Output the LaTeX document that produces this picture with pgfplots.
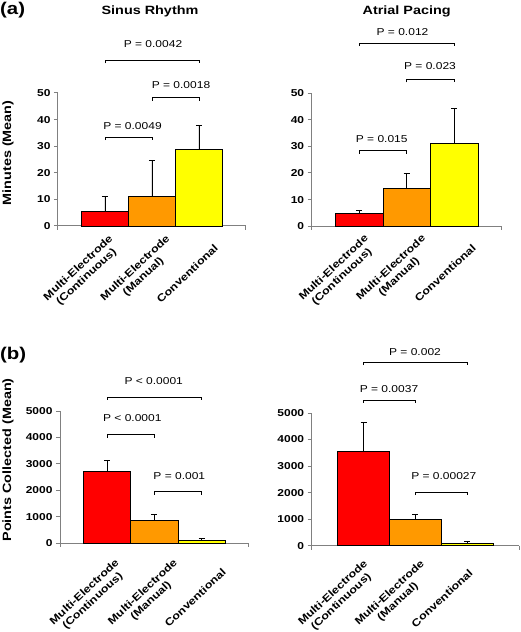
\documentclass[border=0pt]{standalone}
\usepackage{fontspec}
\setmainfont{Liberation Sans}[FakeStretch=1.2]
\usepackage{pgfplots}
\pgfplotsset{compat=1.18}
\definecolor{barred}{RGB}{255,0,0}
\definecolor{barorange}{RGB}{255,153,0}
\definecolor{baryellow}{RGB}{255,255,0}
\definecolor{axgray}{RGB}{128,128,128}
\tikzset{bracket/.style={black, line width=0.8pt}}
\pgfplotsset{
  mybars/.style={
    scale only axis,
    xmin=-1, xmax=3, ymin=0,
    axis lines=left,
    axis line style={-, draw=axgray, line width=1pt},
    xticklabels={{Multi-Electrode\\(Continuous)},{Multi-Electrode\\(Manual)},{\rule{0pt}{21pt}Conventional}},
    x tick label style={rotate=43, anchor=north east, align=center, inner sep=0pt,
      font=\bfseries\fontsize{10.4}{12}\selectfont},
    xtick style={draw=none},
    y tick label style={font=\bfseries\fontsize{10}{12}\selectfont},
    ytick style={draw=axgray, line width=1pt},
    tick align=outside,
    major tick length=4pt,
    ytick pos=left,
    /pgf/number format/assume math mode=true,
    /pgf/number format/1000 sep={},
    scaled y ticks=false,
    clip=false,
    ylabel style={font=\bfseries\fontsize{12}{14}\selectfont, anchor=center},
  },
  mybar/.style={ybar, bar width=1, bar shift=0pt, draw=black, line width=0.6pt, fill=#1,
    error bars/.cd, y dir=plus, y explicit,
    error bar style={black, line width=0.6pt},
    error mark options={rotate=90, black, mark size=3pt, line width=0.6pt}},
}
\newcommand{\bracket}[3]{\draw[bracket] ([yshift=-3pt]axis cs:#1,#3) -- (axis cs:#1,#3) -- (axis cs:#2,#3) -- ([yshift=-3pt]axis cs:#2,#3);}
\newcommand{\axisendticks}{%
  \draw[axgray, line width=1pt] (axis cs:3,0) -- ([yshift=-4pt]axis cs:3,0);
  \draw[axgray, line width=1pt] (axis cs:-1,0) -- ([yshift=-4pt]axis cs:-1,0);}
\begin{document}
\begin{tikzpicture}
\path[use as bounding box] (0,0) rectangle (520pt,632pt);
% (a) Sinus Rhythm
\begin{axis}[mybars, at={(58pt,406pt)}, anchor=south west, width=188pt, height=133pt,
  ymax=50, ytick={0,10,20,30,40,50},
  xtick={-0.008,1.204,2.041}, x tick label style={yshift=-5.2pt},
  ylabel={Minutes (Mean)}, ylabel style={at={(axis description cs:-0.266,0.55)}}]
\addplot[mybar=barred] coordinates {(0,5.5) +- (0,5.5)};
\addplot[mybar=barorange] coordinates {(1,11.3) +- (0,13.4)};
\addplot[mybar=baryellow] coordinates {(2,28.7) +- (0,9.3)};
\bracket{0}{1}{33.4}
\bracket{1}{2}{48.2}
\bracket{0}{2}{62.3}
\axisendticks
\end{axis}
% (a) Atrial Pacing
\begin{axis}[mybars, at={(311.7pt,405.7pt)}, anchor=south west, width=190pt, height=133.3pt,
  ymax=50, ytick={0,10,20,30,40,50},
  xtick={0.030,1.236,2.108}, x tick label style={yshift=-4.3pt}]
\addplot[mybar=barred] coordinates {(0,5.0) +- (0,0.9)};
\addplot[mybar=barorange] coordinates {(1,14.2) +- (0,5.6)};
\addplot[mybar=baryellow] coordinates {(2,31.0) +- (0,13.2)};
\bracket{0}{1}{28.3}
\bracket{1}{2}{55.1}
\bracket{0}{2}{68.7}
\axisendticks
\end{axis}
% (b) Sinus Rhythm
\begin{axis}[mybars, at={(60pt,88.7pt)}, anchor=south west, width=188.7pt, height=132.3pt,
  ymax=5000, ytick={0,1000,2000,3000,4000,5000},
  xtick={-0.055,1.180,2.021}, x tick label style={yshift=-14.4pt},
  ylabel={Points Collected (Mean)}, ylabel style={at={(axis description cs:-0.276,0.63)}}]
\addplot[mybar=barred] coordinates {(0,2740) +- (0,390)};
\addplot[mybar=barorange] coordinates {(1,870) +- (0,225)};
\addplot[mybar=baryellow] coordinates {(2,113) +- (0,62)};
\bracket{0}{1}{4110}
\bracket{1}{2}{1950}
\bracket{0}{2}{5530}
\axisendticks
\end{axis}
% (b) Atrial Pacing
\begin{axis}[mybars, at={(311.7pt,86.3pt)}, anchor=south west, width=207.3pt, height=132.7pt,
  ymax=5000, ytick={0,1000,2000,3000,4000,5000},
  xtick={-0.172,0.923,1.687}, x tick label style={yshift=-12pt}]
\addplot[mybar=barred] coordinates {(0,3570) +- (0,1070)};
\addplot[mybar=barorange] coordinates {(1,995) +- (0,185)};
\addplot[mybar=baryellow] coordinates {(2,90) +- (0,90)};
\bracket{0}{1}{5490}
\bracket{1}{2}{2020}
\bracket{0}{2}{6920}
\axisendticks
\end{axis}
% titles and panel letters
\node[font=\bfseries\fontsize{12}{14}\selectfont, anchor=base] at (150pt,617pt) {Sinus Rhythm};
\node[font=\bfseries\fontsize{12}{14}\selectfont, anchor=base] at (406.7pt,617pt) {Atrial Pacing};
\node[font=\bfseries\fontsize{17}{20}\selectfont, anchor=base west, inner sep=0pt] at (0pt,617pt) {(a)};
\node[font=\bfseries\fontsize{17}{20}\selectfont, anchor=base west, inner sep=0pt] at (0pt,272pt) {(b)};
% P values
\begin{scope}[every node/.style={font=\fontsize{10}{12}\selectfont, anchor=center, inner sep=0pt}]
\node at (132.5pt,506pt) {P = 0.0049};
\node at (181pt,547pt) {P = 0.0018};
\node at (153pt,588pt) {P = 0.0042};
\node at (381.7pt,492.7pt) {P = 0.015};
\node at (430pt,566.3pt) {P = 0.023};
\node at (402.5pt,599.7pt) {P = 0.012};
\node at (132.3pt,213.7pt) {P < 0.0001};
\node at (179.3pt,156.3pt) {P = 0.001};
\node at (153.7pt,251pt) {P < 0.0001};
\node at (389pt,243pt) {P = 0.0037};
\node at (443.8pt,156.3pt) {P = 0.00027};
\node at (415pt,279.7pt) {P = 0.002};
\end{scope}
\end{tikzpicture}
\end{document}
